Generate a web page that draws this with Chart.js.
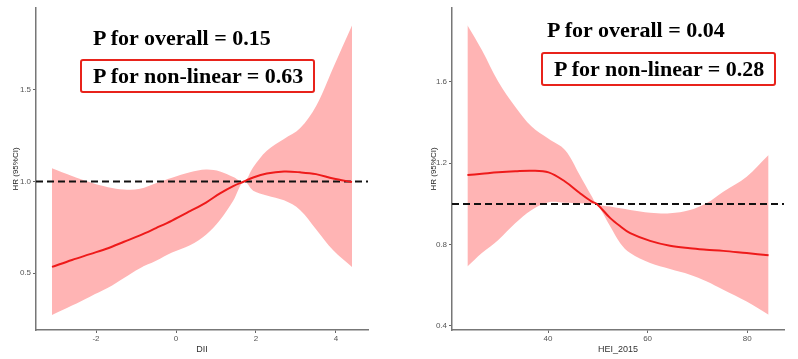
<!DOCTYPE html>
<html>
<head>
<meta charset="utf-8">
<script src="https://cdn.jsdelivr.net/npm/chart.js@4/dist/chart.umd.min.js"></script>
<style>
  body { margin: 0; background: #fff; }
  #wrap { position: relative; width: 798px; height: 359px; overflow: hidden; }
  .panel { position: absolute; top: 0; height: 359px; }
  .note {
    position: absolute; font-family: "Liberation Serif", "Times New Roman", serif;
    font-weight: bold; font-size: 22px; color: #000; white-space: nowrap; line-height: 1;
  }
  .boxed { border: 2.5px solid #e8231b; border-radius: 3px; padding: 4px 10px 4px 11px; }
</style>
</head>
<body>
<div id="wrap">
  <div class="panel" style="left:0;width:400px"><canvas id="dii" width="400" height="359"></canvas></div>
  <div class="panel" style="left:400px;width:398px"><canvas id="hei" width="398" height="359"></canvas></div>
  <div class="note" style="left:93px;top:27px">P for overall = 0.15</div>
  <div class="note boxed" style="left:80px;top:59px">P for non-linear = 0.63</div>
  <div class="note" style="left:547px;top:19px">P for overall = 0.04</div>
  <div class="note boxed" style="left:541px;top:52px">P for non-linear = 0.28</div>
</div>
<script>
// DII panel
const diiX     = [-3.1, -2.6, -2.15, -1.7, -1.3, -0.9, -0.5, -0.1, 0.35, 0.75, 1.1, 1.43, 1.7, 1.93, 2.27, 2.7, 3.1, 3.5, 3.93, 4.4];
const diiHR    = [0.534, 0.572, 0.604, 0.636, 0.671, 0.706, 0.746, 0.787, 0.838, 0.885, 0.935, 0.975, 1.0, 1.022, 1.043, 1.054, 1.05, 1.04, 1.016, 0.997];
const diiUpper = [1.072, 1.03, 0.996, 0.969, 0.956, 0.96, 0.99, 1.02, 1.05, 1.065, 1.055, 1.025, 1.0, 1.078, 1.168, 1.232, 1.29, 1.41, 1.62, 1.85];
const diiLower = [0.272, 0.323, 0.372, 0.42, 0.474, 0.527, 0.567, 0.612, 0.652, 0.71, 0.79, 0.895, 1.0, 0.95, 0.924, 0.897, 0.845, 0.74, 0.625, 0.534];
const diiTicks = [-2, 0, 2, 4];

// HEI_2015 panel
const heiX     = [23.8, 26.7, 30, 33.4, 36.7, 40.1, 43.4, 46.3, 48.8, 49.8, 52.5, 54.5, 56.5, 60.5, 64.5, 68.5, 71.8, 75.2, 79.9, 84.3];
const heiHR    = [1.142, 1.148, 1.155, 1.16, 1.163, 1.155, 1.11, 1.055, 1.011, 1.0, 0.93, 0.89, 0.856, 0.818, 0.794, 0.782, 0.775, 0.769, 0.758, 0.748];
const heiUpper = [1.878, 1.756, 1.60, 1.478, 1.38, 1.32, 1.265, 1.145, 1.036, 1.0, 0.987, 0.978, 0.97, 0.957, 0.954, 0.97, 1.003, 1.06, 1.134, 1.24];
const heiLower = [0.692, 0.758, 0.823, 0.905, 0.97, 1.008, 1.006, 1.003, 1.001, 1.0, 0.889, 0.807, 0.758, 0.709, 0.68, 0.652, 0.62, 0.578, 0.52, 0.455];
const heiTicks = [40, 60, 80];

const pts = (xs, ys) => xs.map((x, i) => ({ x, y: ys[i] }));

function makeChart(id, cfg) {
  const ctx = document.getElementById(id).getContext("2d");
  return new Chart(ctx, {
    type: "line",
    data: {
      datasets: [
        {
          // red HR curve, on top
          data: pts(cfg.x, cfg.hr),
          borderColor: "#ee1a1a",
          borderWidth: 2,
          pointRadius: 0,
          fill: false,
          tension: 0.35,
          order: 0,
        },
        {
          // reference line HR = 1
          data: [{ x: cfg.xMin, y: 1 }, { x: cfg.xMax, y: 1 }],
          borderColor: "#111",
          borderWidth: 2,
          borderDash: [7, 4],
          pointRadius: 0,
          fill: false,
          order: 1,
        },
        {
          data: pts(cfg.x, cfg.upper),
          borderWidth: 0,
          borderColor: "rgba(0,0,0,0)",
          backgroundColor: "rgba(255, 180, 180, 1)",
          fill: "+1",
          pointRadius: 0,
          tension: 0.35,
          order: 2,
        },
        {
          data: pts(cfg.x, cfg.lower),
          borderWidth: 0,
          borderColor: "rgba(0,0,0,0)",
          pointRadius: 0,
          fill: false,
          tension: 0.35,
          order: 3,
        },
      ],
    },
    options: {
      responsive: false,
      animation: false,
      layout: { padding: { top: 8, right: cfg.padRight, left: 0, bottom: 0 } },
      plugins: { legend: { display: false }, tooltip: { enabled: false } },
      scales: {
        x: {
          type: "linear",
          min: cfg.xMin,
          max: cfg.xMax,
          afterBuildTicks: (axis) => { axis.ticks = cfg.ticksX.map((v) => ({ value: v })); },
          afterFit: (axis) => { axis.height = 29; },
          grid: { drawOnChartArea: false, drawTicks: true, tickLength: 3, color: "#666" },
          border: { display: true, color: "#777", width: 1.5 },
          ticks: { color: "#555", font: { family: "Liberation Sans", size: 8 }, padding: 1 },
          title: { display: true, text: cfg.xTitle, color: "#333", font: { family: "Liberation Sans", size: 9 }, padding: { top: 0 } },
        },
        y: {
          type: "linear",
          min: cfg.yMin,
          max: cfg.yMax,
          afterBuildTicks: (axis) => { axis.ticks = cfg.ticksY.map((v) => ({ value: v })); },
          afterFit: (axis) => { axis.width = cfg.yWidth; },
          grid: { drawOnChartArea: false, drawTicks: true, tickLength: 3, color: "#666" },
          border: { display: true, color: "#777", width: 1.5 },
          ticks: { color: "#555", font: { family: "Liberation Sans", size: 8 }, padding: 2, callback: (v) => v.toFixed(1) },
          title: { display: true, text: "HR (95%CI)", color: "#222", font: { family: "Liberation Sans", size: 8 }, padding: { top: cfg.titlePad, bottom: 0 } },
        },
      },
    },
  });
}

makeChart("dii", {
  x: diiX, hr: diiHR, upper: diiUpper, lower: diiLower,
  xMin: -3.5, xMax: 4.8, yMin: 0.19, yMax: 1.946,
  ticksX: diiTicks, ticksY: [0.5, 1.0, 1.5], xTitle: "DII",
  yWidth: 36, padRight: 32, titlePad: 11,
});

makeChart("hei", {
  x: heiX, hr: heiHR, upper: heiUpper, lower: heiLower,
  xMin: 20.7, xMax: 87.4, yMin: 0.38, yMax: 1.963,
  ticksX: heiTicks, ticksY: [0.4, 0.8, 1.2, 1.6], xTitle: "HEI_2015",
  yWidth: 52, padRight: 14, titlePad: 29,
});
</script>
</body>
</html>
